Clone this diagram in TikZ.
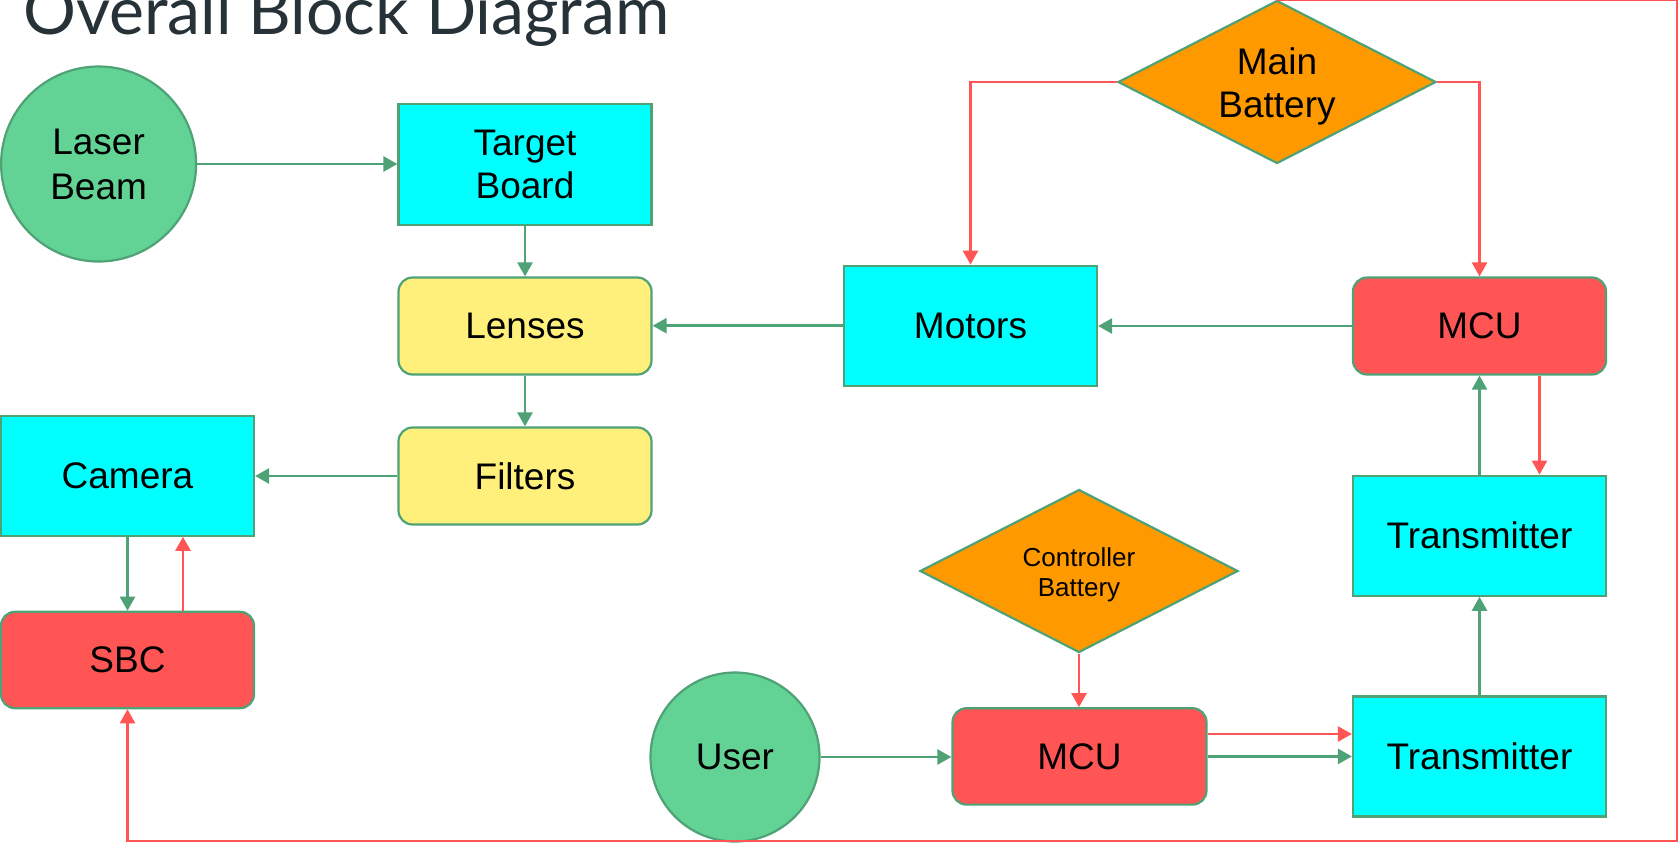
\documentclass[tikz,border=0pt]{standalone}
\usepackage{fontspec}
\setmainfont{Liberation Sans}
\newfontfamily\titlefont{Lato}
\usetikzlibrary{shapes.geometric,arrows.meta}
\definecolor{gline}{HTML}{4FA276}
\definecolor{rline}{HTML}{FF5555}
\definecolor{cyanf}{HTML}{00FFFF}
\definecolor{yelf}{HTML}{FFF07C}
\definecolor{orf}{HTML}{FF9900}
\definecolor{circf}{HTML}{62D394}
\definecolor{redf}{HTML}{FF5555}
\definecolor{titlec}{HTML}{263238}
\tikzset{
  box/.style={draw=gline, line width=2.2pt, minimum width=253pt, minimum height=120pt, inner sep=0pt,
    font=\fontsize{37}{43}\selectfont, align=center, text=black},
  rbox/.style={box, rounded corners=14pt, minimum height=97pt},
  cyanbox/.style={box, fill=cyanf},
  yelbox/.style={rbox, fill=yelf},
  redbox/.style={rbox, fill=redf},
  circ/.style={circle, draw=gline, fill=circf, line width=2.2pt, inner sep=0pt,
    font=\fontsize{37}{45}\selectfont, align=center},
  batt/.style={diamond, aspect=1.95, draw=gline, fill=orf, line width=2.2pt, inner sep=0pt,
    minimum width=318pt, minimum height=163pt},
  batttext/.style={inner sep=0pt, align=center, text=black},
  garrow/.style={draw=gline, line width=2.5pt, -{Triangle[length=14pt,width=15pt]}},
  rarrow/.style={draw=rline, line width=2.5pt, -{Triangle[length=14pt,width=15pt]}},
}
\begin{document}
\begin{tikzpicture}[x=1pt,y=-1pt]
\useasboundingbox (0,0) rectangle (1680,844);
\node[anchor=base west, inner sep=0pt, text=titlec] (title) at (23,34)
  {\resizebox{646pt}{!}{\titlefont Overall Block Diagram}};
\node[circ, minimum size=195pt] (laser) at (98.6,164) {Laser\\Beam};
\node[cyanbox, minimum height=121pt] (target) at (525,164.5) {Target\\Board};
\node[yelbox] (lenses) at (525,326) {Lenses};
\node[yelbox] (filters) at (525,476) {Filters};
\node[cyanbox] (camera) at (127.5,475.7) {Camera};
\node[redbox, minimum height=96.4pt] (sbc) at (127.5,660) {SBC};
\node[cyanbox] (motors) at (970.5,325.7) {Motors};
\node[redbox] (mcu1) at (1479.5,326) {MCU};
\node[batt] (mainbatt) at (1277,82) {};
\node[batttext, font=\fontsize{37}{43}\selectfont] (mainbattlbl) at ([yshift=-4pt]mainbatt.center) {Main\\Battery};
\node[cyanbox] (tx1) at (1479.5,535.7) {Transmitter};
\node[cyanbox] (tx2) at (1479.5,756.4) {Transmitter};
\node[batt] (ctrlbatt) at (1079,571) {};
\node[batttext, font=\fontsize{26}{30}\selectfont] (ctrlbattlbl) at ([yshift=-4pt]ctrlbatt.center) {Controller\\Battery};
\node[redbox, minimum height=96.4pt, minimum width=254pt] (mcu2) at (1079.5,756.4) {MCU};
\node[circ, minimum size=169pt] (user) at (735,757) {User};
\coordinate (tr) at (1677,1.5);
\coordinate (br) at (1677,841);
% green connectors
\draw[garrow] (laser.east) -- (laser.east -| target.west);
\draw[garrow] (target) -- (lenses);
\draw[garrow] (lenses) -- (filters);
\draw[garrow] (filters.west) -- (filters.west -| camera.east);
\draw[garrow] (motors.west) -- (motors.west -| lenses.east);
\draw[garrow] (mcu1.west) -- (mcu1.west -| motors.east);
\draw[garrow] (camera) -- (sbc);
\draw[garrow] (tx1) -- (mcu1);
\draw[garrow] (tx2) -- (tx1);
\draw[garrow] (user.east) -- (user.east -| mcu2.west);
\draw[garrow] (mcu2.east) -- (mcu2.east -| tx2.west);
% red connectors
\draw[rarrow] ([xshift=55.5pt]sbc.north) -- ([xshift=55.5pt]camera.south);
\draw[rarrow] (mainbatt.north) -- (mainbatt.north -| tr) -- (br) -- (br -| sbc.south) -- (sbc.south);
\draw[rarrow] (mainbatt.west) -| (motors.north);
\draw[rarrow] (mainbatt.east) -| (mcu1.north);
\draw[rarrow] ([xshift=60pt]mcu1.south) -- ([xshift=60pt]tx1.north);
\draw[rarrow] (ctrlbatt.south) -- (ctrlbatt.south |- mcu2.north);
\draw[rarrow] ([yshift=22.4pt]mcu2.east) -- ([yshift=22.4pt]mcu2.east -| tx2.west);
\end{tikzpicture}
\end{document}
